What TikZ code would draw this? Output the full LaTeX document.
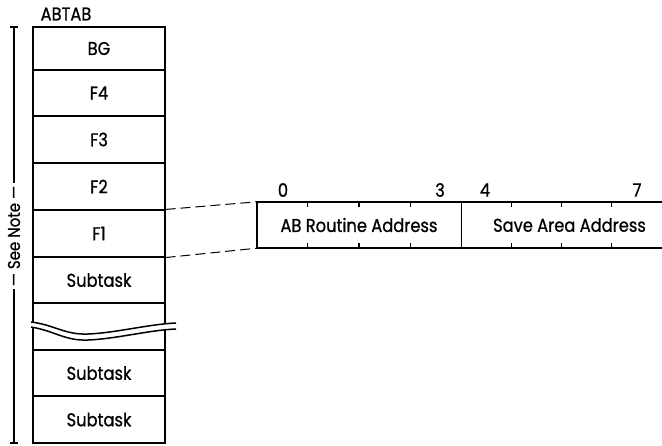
\documentclass[tikz,border=0pt]{standalone}
\usepackage{fontspec}
\setmainfont{Poppins}[FakeStretch=0.88, FakeBold=0.8]
\usetikzlibrary{calc}
\begin{document}
\begin{tikzpicture}[x=1pt,y=-1pt,
  lbl/.style={font=\fontsize{18.5}{21}\selectfont, inner sep=0pt},
  cell/.style={draw, line width=1.1pt, minimum width=132pt, inner sep=0pt,
               font=\fontsize{18.5}{21}\selectfont},
  field/.style={minimum width=#1, minimum height=46pt, inner sep=0pt,
                font=\fontsize{18.5}{21}\selectfont},
  thick edge/.style={line width=1.7pt},
  link/.style={line width=1pt, dash pattern=on 10pt off 5pt}]
\useasboundingbox (0,0) rectangle (662,445);

% ---- ABTAB column ----
\node[lbl] (title) at (66,14) {ABTAB};
\node[cell, minimum height=43pt] (bg)  at (99,48.5)  {BG};
\node[cell, minimum height=46pt] (f4)  at (99,93)    {F4};
\node[cell, minimum height=47pt] (f3)  at (99,139.5) {F3};
\node[cell, minimum height=47pt] (f2)  at (99,186.5) {F2};
\node[cell, minimum height=47pt] (f1)  at (99,233.5) {F1};
\node[cell, minimum height=46pt] (st1) at (99,280)   {Subtask};
\node[cell, minimum height=47pt] (gap) at (99,326.5) {};
\node[cell, minimum height=46pt] (st2) at (99,373)   {Subtask};
\node[cell, minimum height=47pt] (st3) at (99,419.5) {Subtask};

% heavier outline of the table
\draw[thick edge] (bg.north west) -- (bg.north east) -- (st3.south east)
  -- (st3.south west) -- cycle;

% break in the column
\fill[white] (31,322) .. controls (55,325) and (65,335) .. (88,334)
  .. controls (115,333) and (150,324) .. (176,323)
  -- (176,329) .. controls (150,330) and (115,339) .. (88,340)
  .. controls (65,341) and (55,331) .. (31,327) -- cycle;
\draw[line width=1.5pt] (31,322) .. controls (55,325) and (65,335) .. (88,334)
  .. controls (115,333) and (150,324) .. (176,323);
\draw[line width=1.5pt] (31,327) .. controls (55,331) and (65,341) .. (88,340)
  .. controls (115,339) and (150,330) .. (176,329);

% ---- extent bracket ----
\coordinate (bt) at (14,27);
\coordinate (bb) at (14,443);
\draw[line width=1.1pt] ($(bt)+(-4,0)$) -- ($(bt)+(4,0)$)
  (bt) -- (bb)
  ($(bb)+(-4,0)$) -- ($(bb)+(4,0)$);
\node[lbl, fill=white, rotate=90, inner xsep=3pt,
      font=\fontsize{17}{20}\selectfont] (note) at (14,236) {— See Note —};

% ---- exit entry layout ----
\node[field=204pt] (addr) at (359,225) {AB Routine Address};
\node[field=201pt] (save) at (561.5,225) {\hspace{16pt}Save Area Address};
\draw[thick edge] (save.north east) -- (addr.north west)
  -- (addr.south west) -- (save.south east);
\draw[line width=1.3pt] (addr.north east) -- (addr.south east);
\foreach \n in {addr,save}{
  \foreach \f in {0.25,0.5,0.75}{
    \draw[line width=1.1pt] ($(\n.north west)!\f!(\n.north east)$) -- ++(0,5);
    \draw[line width=1.1pt] ($(\n.south west)!\f!(\n.south east)$) -- ++(0,-5);
  }
}
\node[lbl] (b0) at (283,190) {0};
\node[lbl] (b3) at (440,190) {3};
\node[lbl] (b4) at (485,190) {4};
\node[lbl] (b7) at (637,190) {7};

% ---- expansion lines ----
\draw[link] (f1.north east) -- (addr.north west);
\draw[link] (f1.south east) -- (addr.south west);
\end{tikzpicture}
\end{document}
